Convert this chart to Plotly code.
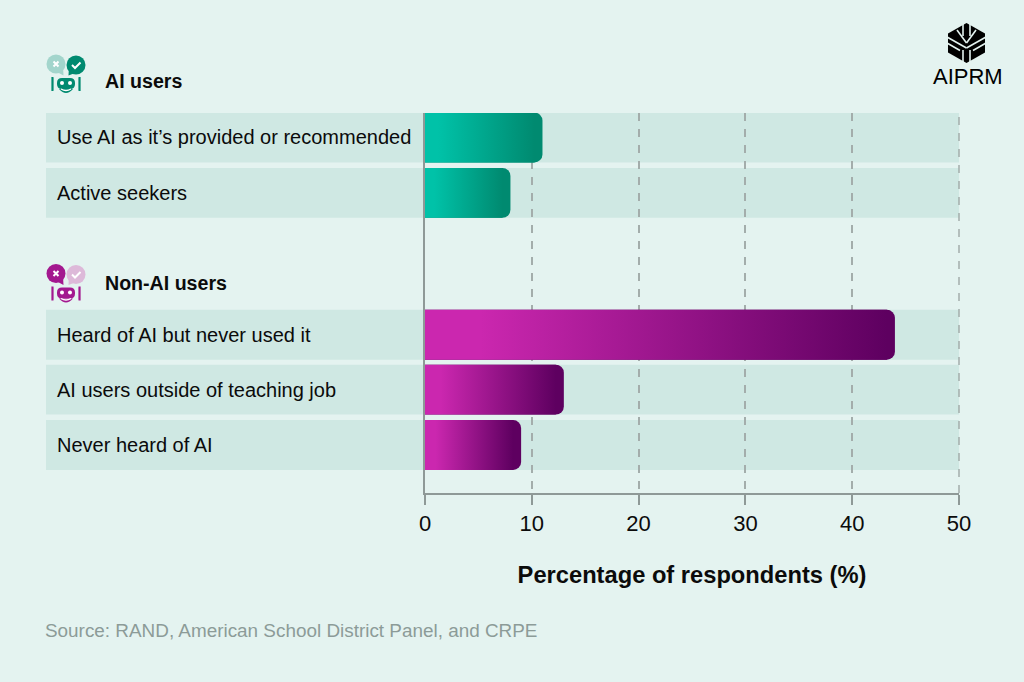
import plotly.graph_objects as go

# ---- data ----
categories = ["Use AI as it\u2019s provided or recommended", "Active seekers",
              "Heard of AI but never used it", "AI users outside of teaching job", "Never heard of AI"]
values = [11, 8, 44, 13, 9]
groups = ["ai", "ai", "non", "non", "non"]
row_slots = [0, 1, 3.56, 4.55, 5.55]
group_titles = ["AI users", "Non-AI users"]
tick_values = [0, 10, 20, 30, 40, 50]
x_title = "Percentage of respondents (%)"
source_text = "Source: RAND, American School District Panel, and CRPE"

# ---- style ----
BG = "#E4F3F0"; BAND = "#CFE8E3"; AXIS = "#8E9997"; INK = "#0B0B0B"; GRID = "#A3ADAB"
GRAD = {"ai": ("#00C2A8", "#008A70"), "non": ("#CB27AF", "#5E0060")}
FONT = "Liberation Sans"
W, H = 1024, 682
L, R, T, B = 425, 959, 113, 493
BAR_W = 0.9
TIP = 0.75


def fx(x): return (x - L) / (R - L)
def fy(y): return (B - y) / (B - T)


def path(cmds):
    out = []
    for c in cmds:
        if isinstance(c, str):
            out.append(c)
        else:
            out.append(f"{fx(c[0]):.5f},{fy(c[1]):.5f}")
    return " ".join(out)


def pshape(cmds, fill=None, line=None, lw=0):
    return dict(type="path", xref="paper", yref="paper", path=path(cmds), layer="above",
                fillcolor=fill if fill else "rgba(0,0,0,0)",
                line=dict(color=line if line else "rgba(0,0,0,0)", width=lw))


def circle(cx, cy, r, fill):
    return dict(type="circle", xref="paper", yref="paper", layer="above",
                x0=fx(cx - r), x1=fx(cx + r), y0=fy(cy + r), y1=fy(cy - r),
                fillcolor=fill, line=dict(width=0))


def rrect(x0, y0, x1, y1, r, fill):
    return pshape(["M", (x0 + r, y0), "L", (x1 - r, y0), "Q", (x1, y0), (x1, y0 + r),
                   "L", (x1, y1 - r), "Q", (x1, y1), (x1 - r, y1),
                   "L", (x0 + r, y1), "Q", (x0, y1), (x0, y1 - r),
                   "L", (x0, y0 + r), "Q", (x0, y0), (x0 + r, y0), "Z"], fill=fill)


def robot_icon(dy, left, right, body):
    s = []
    s.append(circle(56, 64 + dy, 9.5, left))
    s.append(pshape(["M", (57, 72 + dy), "L", (63.5, 75.5 + dy), "L", (63, 66 + dy), "Z"], fill=left))
    s.append(circle(76, 65 + dy, 9.5, right))
    s.append(pshape(["M", (75, 73 + dy), "L", (68.5, 75.5 + dy), "L", (69, 66 + dy), "Z"], fill=right))
    s.append(pshape(["M", (53.5, 61.5 + dy), "L", (58.5, 66.5 + dy), "M", (58.5, 61.5 + dy), "L", (53.5, 66.5 + dy)],
                    line="white", lw=2))
    s.append(pshape(["M", (72, 65 + dy), "L", (75, 68 + dy), "L", (80.5, 62.5 + dy)], line="white", lw=2))
    s.append(rrect(57, 78 + dy, 75, 89 + dy, 5, body))
    s.append(pshape(["M", (59, 89 + dy), "Q", (66, 97 + dy), (73, 89 + dy), "Z"], fill=body))
    s.append(rrect(60, 81 + dy, 64, 85 + dy, 2, "white"))
    s.append(rrect(68, 81 + dy, 72, 85 + dy, 2, "white"))
    s.append(pshape(["M", (61, 89 + dy), "Q", (66, 92 + dy), (71, 89 + dy)], line="white", lw=1.4))
    for a, b in ((53.5, 52.5), (78.5, 79.5)):
        s.append(pshape(["M", (a, 78 + dy), "L", (b, 78 + dy), "L", (b, 90 + dy), "L", (a, 90 + dy)],
                        line=body, lw=2.2))
    return s


def logo():
    s = []
    hexa = [(966.5, 23), (985, 33.5), (985, 52.5), (966.5, 63), (948, 52.5), (948, 33.5)]
    s.append(pshape(["M", hexa[0], "L", hexa[1], "L", hexa[2], "L", hexa[3], "L", hexa[4], "L", hexa[5], "Z"], fill="#000000"))
    white = [[(963, 22), (963, 36)], [(970, 22), (970, 36)],
             [(947, 37), (966.5, 48)], [(986, 37), (966.5, 48)],
             [(947, 43), (960, 50.5)], [(986, 43), (973, 50.5)],
             [(963, 50), (963, 64)], [(970, 50), (970, 64)],
             [(957, 30), (966.5, 43)], [(976, 30), (966.5, 43)]]
    for a, b in white:
        s.append(pshape(["M", a, "L", b], line=BG, lw=1.6))
    return s


fig = go.Figure()

# real bars, with rounded tips, in the end colour of the gradient
fig.add_trace(go.Bar(x=values, y=row_slots, orientation="h", width=BAR_W,
                     marker=dict(color=[GRAD[g][1] for g in groups], cornerradius=8, line=dict(width=0)),
                     hovertext=categories, hoverinfo="text+x", showlegend=False))

# gradient skin over each bar, up to where the rounded tip starts
for v, slot, g in zip(values, row_slots, groups):
    top, bot = slot - BAR_W / 2, slot + BAR_W / 2
    end = v - TIP
    fig.add_trace(go.Scatter(x=[0, end, end, 0, 0], y=[top, top, bot, bot, top],
                             mode="lines", line=dict(width=0), fill="toself",
                             fillgradient=dict(type="horizontal", start=0, stop=end,
                                               colorscale=[[0, GRAD[g][0]], [0.12, GRAD[g][0]], [1, GRAD[g][1]]]),
                             hoverinfo="skip", showlegend=False))

shapes = []
# background bands: under the grid so the dashes stay visible
for slot in row_slots:
    shapes.append(dict(type="rect", xref="paper", yref="y", layer="below",
                       x0=fx(46), x1=1, y0=slot - BAR_W / 2, y1=slot + BAR_W / 2,
                       fillcolor=BAND, line=dict(width=0)))
# the gridline at the far end of the axis, which the grid itself leaves out
shapes.append(dict(type="line", xref="paper", yref="paper", layer="above", x0=1, x1=1, y0=0, y1=1,
                   line=dict(color=GRID, width=1.5, dash="8px,8px")))
shapes += robot_icon(0, "#A3D5CC", "#008A70", "#008A70")
shapes += robot_icon(209.5, "#A3188F", "#DDB9D9", "#A3188F")
shapes += logo()

annotations = []
for cat, slot in zip(categories, row_slots):
    annotations.append(dict(text=cat, x=fx(55), xref="paper", y=slot, yref="y", xanchor="left", yanchor="middle",
                            showarrow=False, font=dict(size=20, color=INK, family=FONT)))
for title, py in zip(group_titles, (81, 283)):
    annotations.append(dict(text=f"<b>{title}</b>", x=fx(103), y=fy(py), xref="paper", yref="paper", xanchor="left",
                            yanchor="middle", showarrow=False, font=dict(size=19.6, color=INK, family=FONT)))
annotations.append(dict(text=source_text, x=fx(43), y=fy(630), xref="paper", yref="paper", xanchor="left",
                        yanchor="middle", showarrow=False, font=dict(size=18.9, color="#8C9B98", family=FONT)))
annotations.append(dict(text="AIPRM", x=fx(967.5), y=fy(77), xref="paper", yref="paper", xanchor="center",
                        yanchor="middle", showarrow=False, font=dict(size=22, color="#000000", family=FONT)))

fig.update_layout(
    width=W, height=H, margin=dict(l=L, r=W - R, t=T, b=H - B),
    paper_bgcolor=BG, plot_bgcolor="rgba(0,0,0,0)", barmode="overlay",
    font=dict(family=FONT, color=INK), shapes=shapes, annotations=annotations,
    xaxis=dict(range=[0, 50], tickmode="array", tickvals=tick_values, ticks="outside", ticklen=10, tickwidth=1.5,
               tickcolor=AXIS, showline=True, linecolor=AXIS, linewidth=1.5, showgrid=True, gridcolor=GRID,
               griddash="8px,8px", gridwidth=1.5, zeroline=False, tickfont=dict(size=22, color=INK, family=FONT),
               title=dict(text=f"<b>{x_title}</b>", standoff=31, font=dict(size=23.7, color=INK, family=FONT))),
    yaxis=dict(range=[6.417, -0.442], showticklabels=False, ticks="", showgrid=False, zeroline=False,
               showline=True, linecolor=AXIS, linewidth=1.5),
)

fig.write_html("out.html", config=dict(displayModeBar=False),
               post_script="document.body.style.margin='0';document.body.style.overflow='hidden';")
